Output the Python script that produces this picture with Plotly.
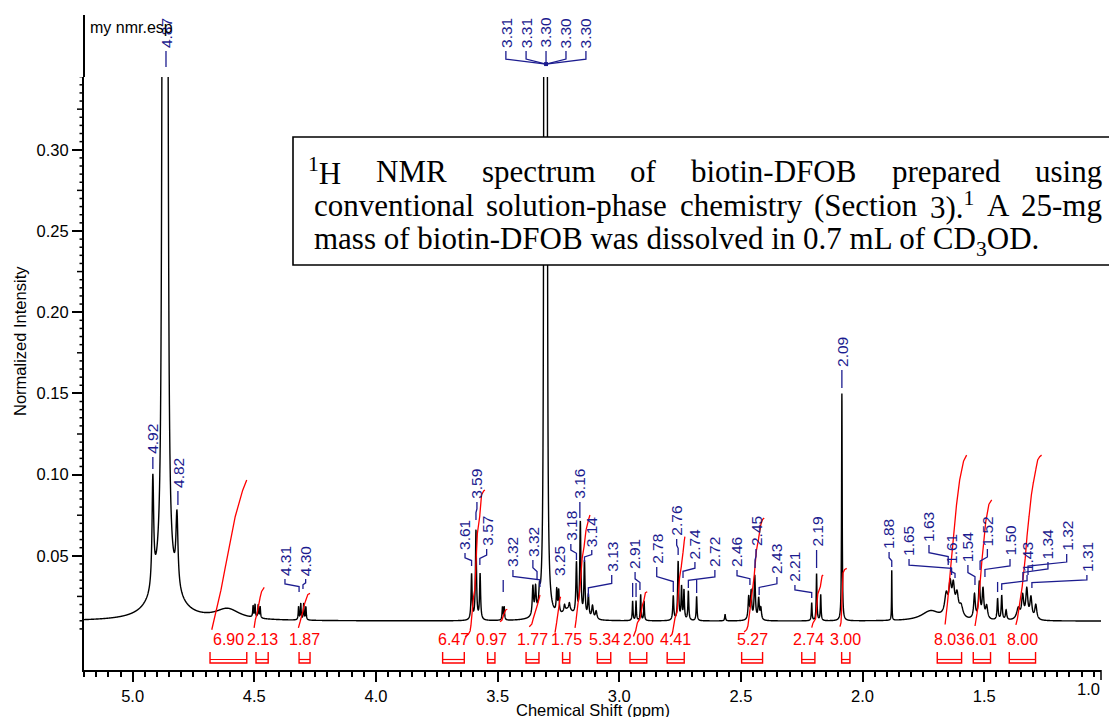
import numpy as np
import plotly.graph_objects as go

# ------------------------------------------------------------------ data
BASELINE = 0.0098

# peaks: position (ppm), height above baseline, half width (ppm)
peak_ppm = [4.877, 4.867, 4.857, 4.867, 4.917, 4.818, 4.61,
            4.505, 4.497, 4.484, 4.476,
            4.318, 4.309, 4.297, 4.288,
            3.607, 3.589, 3.572,
            3.480, 3.473,
            3.355, 3.344, 3.328,
            3.309, 3.306, 3.303, 3.300, 3.297,
            3.257, 3.249,
            3.21, 3.225, 3.205,
            3.176, 3.160, 3.143, 3.127, 3.11, 3.095,
            2.945, 2.931, 2.912, 2.898,
            2.778, 2.758, 2.744, 2.734, 2.716, 2.682,
            2.565,
            2.468, 2.458, 2.443, 2.427, 2.418,
            2.209, 2.189, 2.172,
            2.085,
            1.880,
            1.72, 1.656, 1.640, 1.627, 1.612, 1.595,
            1.540, 1.520, 1.505, 1.490,
            1.445, 1.428, 1.41,
            1.36, 1.342, 1.325, 1.308, 1.288]
peak_height = [0.4, 0.4, 0.4, 0.03, 0.067, 0.044, 0.0065,
               0.007, 0.008, 0.008, 0.007,
               0.008, 0.010, 0.010, 0.008,
               0.028, 0.055, 0.028,
               0.008, 0.008,
               0.018, 0.016, 0.010,
               0.6, 1.2, 1.8, 1.2, 0.6,
               0.014, 0.014,
               0.006, 0.004, 0.004,
               0.032, 0.058, 0.034, 0.014, 0.008, 0.005,
               0.012, 0.012, 0.016, 0.012,
               0.015, 0.036, 0.020, 0.018, 0.018, 0.015,
               0.004,
               0.014, 0.017, 0.027, 0.013, 0.007,
               0.011, 0.029, 0.016,
               0.14,
               0.031,
               0.006, 0.013, 0.018, 0.017, 0.013, 0.007,
               0.015, 0.022, 0.018, 0.008,
               0.013, 0.015, 0.006,
               0.007, 0.014, 0.018, 0.013, 0.009]
peak_hwhm = [0.004, 0.004, 0.004, 0.05, 0.004, 0.005, 0.06,
             0.0018, 0.0018, 0.0018, 0.0018,
             0.0018, 0.0018, 0.0018, 0.0018,
             0.0025, 0.0025, 0.0025,
             0.002, 0.002,
             0.003, 0.003, 0.003,
             0.0012, 0.0012, 0.0012, 0.0012, 0.0012,
             0.0025, 0.0025,
             0.025, 0.003, 0.003,
             0.0028, 0.0028, 0.0028, 0.003, 0.004, 0.004,
             0.0018, 0.0018, 0.0018, 0.0018,
             0.0025, 0.0025, 0.0022, 0.0022, 0.0022, 0.002,
             0.002,
             0.003, 0.003, 0.003, 0.003, 0.003,
             0.0018, 0.0018, 0.0018,
             0.0015,
             0.0010,
             0.045, 0.008, 0.006, 0.006, 0.007, 0.009,
             0.004, 0.004, 0.004, 0.005,
             0.0025, 0.0025, 0.003,
             0.008, 0.005, 0.005, 0.005, 0.005]

# peak labels (blue): text, text position (ppm), text bottom (intensity), peak (ppm), leader end (intensity)
lab_text = ["4.87", "4.92", "4.82", "4.31", "4.30", "3.61", "3.59", "3.57", "3.32", "3.32",
            "3.25", "3.18", "3.16", "3.14", "3.13", "2.91", "2.78", "2.76", "2.74", "2.72",
            "2.46", "2.45", "2.43", "2.21", "2.19", "2.09", "1.88", "1.65", "1.63", "1.61",
            "1.54", "1.52", "1.50", "1.43", "1.34", "1.32", "1.31"]
lab_x = [4.863, 4.917, 4.814, 4.374, 4.289, 3.634, 3.585, 3.545, 3.437, 3.355,
         3.248, 3.199, 3.162, 3.113, 3.031, 2.935, 2.846, 2.764, 2.689, 2.607,
         2.516, 2.438, 2.352, 2.278, 2.189, 2.085, 1.891, 1.809, 1.727, 1.637,
         1.567, 1.487, 1.394, 1.324, 1.238, 1.161, 1.078]
lab_y = [0.3620, 0.1121, 0.0911, 0.0369, 0.0369, 0.0530, 0.0844, 0.0554, 0.0425, 0.0486,
         0.0369, 0.0585, 0.0844, 0.0548, 0.0394, 0.0413, 0.0443, 0.0616, 0.0474, 0.0425,
         0.0425, 0.0554, 0.0382, 0.0333, 0.0548, 0.1656, 0.0536, 0.0493, 0.0579, 0.0443,
         0.0456, 0.0554, 0.0493, 0.0394, 0.0474, 0.0523, 0.0394]
lab_peak = [4.866, 4.915, 4.816, 4.316, 4.300, 3.607, 3.589, 3.573, 3.326, 3.338,
            3.248, 3.176, 3.162, 3.143, 3.127, 2.915, 2.778, 2.758, 2.738, 2.716,
            2.463, 2.442, 2.425, 2.209, 2.189, 2.085, 1.880, 1.634, 1.648, 1.620,
            1.538, 1.517, 1.497, 1.428, 1.341, 1.320, 1.304]
lab_end = [0.3510, 0.1034, 0.0813, 0.0277, 0.0296, 0.0437, 0.0720, 0.0443, 0.0308, 0.0351,
           0.0369, 0.0474, 0.0733, 0.0462, 0.0246, 0.0289, 0.0277, 0.0505, 0.0363, 0.0302,
           0.0320, 0.0425, 0.0259, 0.0240, 0.0425, 0.1533, 0.0431, 0.0382, 0.0443, 0.0363,
           0.0320, 0.0413, 0.0369, 0.0289, 0.0351, 0.0382, 0.0302]

# solvent multiplet labels
solv_text = ["3.31", "3.31", "3.30", "3.30", "3.30"]
solv_x = [3.466, 3.383, 3.301, 3.219, 3.137]
solv_peak = 3.301
solv_y = 0.3620

# unlabelled peak ticks: ppm, top, bottom
tick_ppm = [2.945, 2.931, 2.682, 3.477, 1.445]
tick_top = [0.0333, 0.0333, 0.0351, 0.0351, 0.0339]
tick_bot = [0.0246, 0.0246, 0.0271, 0.0277, 0.0277]

# integrals (red)
int_text = ["6.90", "2.13", "1.87", "6.47", "0.97", "1.77", "1.75", "5.34",
            "2.00", "4.41", "5.27", "2.74", "3.00", "8.03", "6.01", "8.00"]
br_from = [4.682, 4.493, 4.316, 3.726, 3.541, 3.383, 3.233, 3.090,
           2.956, 2.803, 2.497, 2.250, 2.086, 1.693, 1.545, 1.397]
br_to = [4.531, 4.443, 4.271, 3.637, 3.511, 3.330, 3.203, 3.035,
         2.887, 2.733, 2.411, 2.196, 2.052, 1.593, 1.474, 1.289]
cv_from = [4.675, 4.501, 4.319, 3.634, 3.490, 3.370, 3.264, 3.182,
           2.942, 2.792, 2.487, 2.209, 2.093, 1.661, 1.538, 1.370]
cv_to = [4.531, 4.459, 4.271, 3.552, 3.460, 3.326, 3.241, 3.120,
         2.885, 2.730, 2.404, 2.162, 2.065, 1.572, 1.469, 1.264]
cv_y0 = [0.0043, 0.0055, 0.0054, 0.0002, 0.0094, 0.0063, 0.0025, 0.0055,
         0.0002, 0.0002, 0.0031, 0.0054, 0.0063, 0.0074, 0.0063, 0.0074]
cv_y1 = [0.0967, 0.0306, 0.0269, 0.0905, 0.0171, 0.0259, 0.0248, 0.0751,
         0.0279, 0.0618, 0.0733, 0.0382, 0.0423, 0.112, 0.0844, 0.112]

x_tick_vals = [5.0, 4.5, 4.0, 3.5, 3.0, 2.5, 2.0, 1.5]
x_tick_text = ["5.0", "4.5", "4.0", "3.5", "3.0", "2.5", "2.0", "1.5"]
y_tick_vals = [0.05, 0.10, 0.15, 0.20, 0.25, 0.30]
y_tick_text = ["0.05", "0.10", "0.15", "0.20", "0.25", "0.30"]

# ------------------------------------------------------------------ layout constants
W, H = 1109, 717
L, R, T, B = 84, 8, 77, 47
PW, PH = W - L - R, H - T - B
XR = [5.2, 1.02]
YR = [-0.0203, 0.3448]
SANS = "Liberation Sans, Arial, sans-serif"
SERIF = "Liberation Serif, Times New Roman, serif"
BLUE = "#1c1c8f"
RED = "#ff0000"


def v2py(v):  # intensity -> pixel y
    return T + (YR[1] - v) / (YR[1] - YR[0]) * PH


def py2p(py):  # pixel y -> paper
    return 1 - (py - T) / PH


def px2p(px):  # pixel x -> paper
    return (px - L) / PW


# ------------------------------------------------------------------ spectrum
ppm = np.arange(XR[1], XR[0] + 1e-9, 0.0003)
signal = np.zeros_like(ppm)
for p, h, w in zip(peak_ppm, peak_height, peak_hwhm):
    signal += h * w * w / ((ppm - p) ** 2 + w * w)
spec = BASELINE + signal

fig = go.Figure()
fig.add_trace(go.Scatter(x=ppm, y=spec, mode="lines",
                         line=dict(color="black", width=1.4, simplify=False),
                         hoverinfo="skip"))

# integral curves
for a, b, y0, y1 in zip(cv_from, cv_to, cv_y0, cv_y1):
    m = (ppm <= a) & (ppm >= b)
    xs = ppm[m][::-1]
    ss = signal[m][::-1]
    cum = np.cumsum(ss)
    cum = cum / cum[-1]
    fig.add_trace(go.Scatter(x=xs, y=y0 + cum * (y1 - y0), mode="lines",
                             line=dict(color=RED, width=1.3), hoverinfo="skip"))

shapes = []
annotations = []

# brackets and integral values
for t, a, b in zip(int_text, br_from, br_to):
    top, bot, mid = py2p(652), py2p(663), py2p(659.5)
    shapes.append(dict(type="path", xref="x", yref="paper",
                       path=f"M {a},{top} L {a},{bot} L {b},{bot} L {b},{top}",
                       line=dict(color=RED, width=1.4)))
    shapes.append(dict(type="line", xref="x", yref="paper", x0=a, x1=b, y0=mid, y1=mid,
                       line=dict(color=RED, width=1.2)))
    annotations.append(dict(x=(a + b) / 2, y=py2p(639), xref="x", yref="paper",
                            text=t, showarrow=False, xanchor="center", yanchor="middle",
                            font=dict(family=SANS, size=16, color=RED)))


# peak labels
def connector(lx, ty, pk, ey):
    y_start = v2py(ty) + 2
    y_end = v2py(ey)
    total = y_end - y_start
    if abs(lx - pk) < 0.004:
        return f"M {lx},{py2p(y_start)} L {lx},{py2p(y_end)}"
    y1 = y_start + 0.38 * total
    y2 = y_start + 0.58 * total
    return (f"M {lx},{py2p(y_start)} L {lx},{py2p(y1)} L {pk},{py2p(y2)} "
            f"L {pk},{py2p(y_end)}")


for t, lx, ty, pk, ey in zip(lab_text, lab_x, lab_y, lab_peak, lab_end):
    annotations.append(dict(x=lx, y=py2p(v2py(ty)), xref="x", yref="paper", text=t,
                            textangle=-90, showarrow=False, xanchor="center",
                            yanchor="bottom", borderpad=0,
                            font=dict(family=SANS, size=15.5, color=BLUE)))
    if abs(ty - ey) > 1e-6:
        shapes.append(dict(type="path", xref="x", yref="paper",
                           path=connector(lx, ty, pk, ey),
                           line=dict(color=BLUE, width=1.3)))

# solvent multiplet labels
sy = v2py(solv_y)
for t, lx in zip(solv_text, solv_x):
    annotations.append(dict(x=lx, y=py2p(sy), xref="x", yref="paper", text=t,
                            textangle=-90, showarrow=False, xanchor="center",
                            yanchor="bottom", borderpad=0,
                            font=dict(family=SANS, size=15.5, color=BLUE)))
    shapes.append(dict(type="path", xref="x", yref="paper",
                       path=(f"M {lx},{py2p(sy + 2)} L {lx},{py2p(sy + 10)} "
                             f"L {solv_peak},{py2p(sy + 15)}"),
                       line=dict(color=BLUE, width=1.3)))
shapes.append(dict(type="rect", xref="x", yref="paper",
                   x0=solv_peak + 0.008, x1=solv_peak - 0.008,
                   y0=py2p(sy + 13), y1=py2p(sy + 17),
                   fillcolor=BLUE, line=dict(width=0)))

for p, a, b in zip(tick_ppm, tick_top, tick_bot):
    shapes.append(dict(type="line", xref="x", yref="paper", x0=p, x1=p,
                       y0=py2p(v2py(a)), y1=py2p(v2py(b)),
                       line=dict(color=BLUE, width=1.3)))

# y minor ticks
for k in range(1, 70):
    v = k * 0.005
    if k % 10 == 0:
        continue
    ln = 7 if k % 5 == 0 else 4.5
    shapes.append(dict(type="line", xref="paper", yref="y", x0=-ln / PW, x1=0,
                       y0=v, y1=v, line=dict(color="black", width=1.5)))
# y axis line extension above the plot
shapes.append(dict(type="line", xref="paper", yref="paper", x0=0, x1=0,
                   y0=1, y1=py2p(15), line=dict(color="black", width=2)))
# end tick on x axis
shapes.append(dict(type="line", xref="paper", yref="paper", x0=1, x1=1,
                   y0=0, y1=py2p(680), line=dict(color="black", width=1.5)))

# caption box
shapes.append(dict(type="rect", xref="paper", yref="paper", layer="above",
                   x0=px2p(293), x1=px2p(1125), y0=py2p(265), y1=py2p(137),
                   fillcolor="white", line=dict(color="black", width=1.6)))
line1 = ["<sup>1</sup>H", "NMR", "spectrum", "of", "biotin-DFOB", "prepared", "using"]
line1_x = [307, 375.3, 480.8, 629.4, 690.1, 890.5, 1033.8]
line2 = ["conventional", "solution-phase", "chemistry", "(Section", "3).<sup>1</sup>", "A", "25-mg"]
line2_x = [313, 485.4, 678.5, 813.1, 928.7, 985.5, 1020.2]
for words, xs, yc in ((line1, line1_x, 171), (line2, line2_x, 206)):
    for wd, xx in zip(words, xs):
        annotations.append(dict(x=px2p(xx), y=py2p(yc), xref="paper", yref="paper",
                                text=wd, showarrow=False, xanchor="left", yanchor="middle",
                                borderpad=0, font=dict(family=SERIF, size=31, color="black")))
annotations.append(dict(x=px2p(313), y=py2p(241), xref="paper", yref="paper",
                        text="mass of biotin-DFOB was dissolved in 0.7 mL of CD<sub>3</sub>OD.",
                        showarrow=False, xanchor="left", yanchor="middle", borderpad=0,
                        font=dict(family=SERIF, size=31, color="black")))

# other texts
annotations.append(dict(x=px2p(88), y=py2p(28), xref="paper", yref="paper", text="my nmr.esp",
                        showarrow=False, xanchor="left", yanchor="middle",
                        font=dict(family=SANS, size=16, color="black")))
annotations.append(dict(x=px2p(20), y=py2p(341), xref="paper", yref="paper",
                        text="Normalized Intensity", textangle=-90, showarrow=False,
                        xanchor="center", yanchor="middle",
                        font=dict(family=SANS, size=16.5, color="black")))
annotations.append(dict(x=0.5, y=py2p(710), xref="paper", yref="paper",
                        text="Chemical Shift (ppm)", showarrow=False,
                        xanchor="center", yanchor="middle",
                        font=dict(family=SANS, size=16.5, color="black")))
annotations.append(dict(x=px2p(1088), y=py2p(689), xref="paper", yref="paper", text="1.0",
                        showarrow=False, xanchor="center", yanchor="middle",
                        font=dict(family=SANS, size=16.5, color="black")))

fig.update_layout(
    width=W, height=H, margin=dict(l=L, r=R, t=T, b=B),
    plot_bgcolor="white", paper_bgcolor="white", showlegend=False,
    xaxis=dict(range=XR, showgrid=False, zeroline=False, showline=True,
               linecolor="black", linewidth=2, ticks="outside", ticklen=10,
               tickwidth=1.5, tickcolor="black", tickvals=x_tick_vals,
               ticktext=x_tick_text, tickfont=dict(family=SANS, size=16.5, color="black"),
               minor=dict(dtick=0.05, tick0=0, ticks="outside", ticklen=5,
                          tickwidth=1.5, tickcolor="black", showgrid=False)),
    yaxis=dict(range=YR, showgrid=False, zeroline=False, showline=True,
               linecolor="black", linewidth=2, ticks="outside", ticklen=10,
               tickwidth=1.5, tickcolor="black", tickvals=y_tick_vals,
               ticktext=y_tick_text, tickfont=dict(family=SANS, size=16.5, color="black")),
    shapes=shapes, annotations=annotations,
)

fig.write_html("out.html", config={"displayModeBar": False},
               post_script="document.body.style.margin='0';document.body.style.padding='0';")
